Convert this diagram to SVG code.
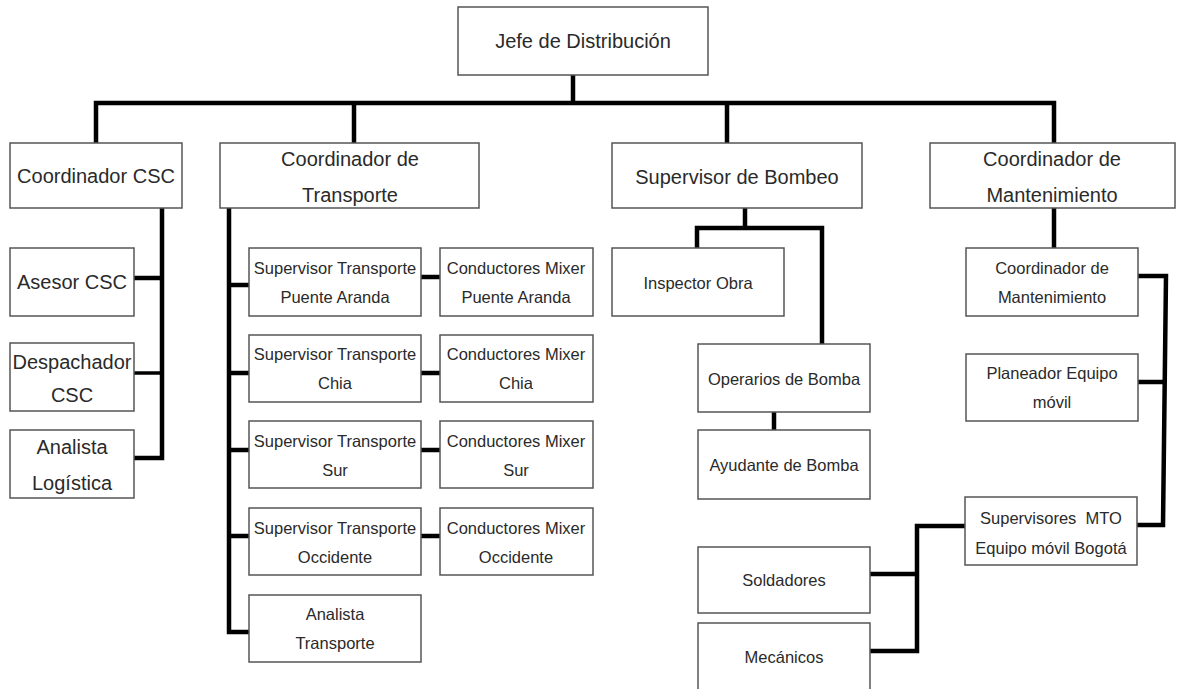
<svg xmlns="http://www.w3.org/2000/svg" width="1178" height="689" viewBox="0 0 1178 689">
  <style>
    .box { fill: #ffffff; stroke: #555555; stroke-width: 1.5; }
    .lbl { font-family: "Liberation Sans", Arial, sans-serif; fill: #2a2a2a; text-anchor: middle; }
    .l1 { font-size: 20px; }
    .l2 { font-size: 16.5px; }
    .wire { fill: none; stroke: #000000; stroke-width: 4.5; stroke-linejoin: miter; stroke-linecap: butt; }
  </style>
  <rect width="1178" height="689" fill="#ffffff"/>

  <!-- connectors -->
  <g id="connectors" class="wire">
    <!-- top level -->
    <polyline points="573,75 573,103"/>
    <polyline points="96,143 96,103 1054,103 1054,143"/>
    <polyline points="354,103 354,143"/>
    <polyline points="727,103 727,143"/>
    <!-- CSC branch -->
    <polyline points="162,208 162,458 134,458"/>
    <polyline points="134,278 162,278"/>
    <polyline points="134,373 162,373" stroke-width="3.5"/>
    <!-- transport branch -->
    <polyline points="229,208 229,632 249,632"/>
    <polyline points="229,285 249,285"/>
    <polyline points="229,373 249,373"/>
    <polyline points="229,450 249,450"/>
    <polyline points="229,536 249,536"/>
    <polyline points="421,277 440,277"/>
    <polyline points="421,373 440,373"/>
    <polyline points="421,450 440,450"/>
    <polyline points="421,536 440,536"/>
    <!-- pumping branch -->
    <polyline points="745,208 745,228"/>
    <polyline points="697,248 697,228 822,228 822,344"/>
    <polyline points="774,412 774,430"/>
    <!-- maintenance branch -->
    <polyline points="1054,208 1054,248"/>
    <polyline points="1138,276 1166,276 1163,525 1137,525"/>
    <polyline points="1138,382 1164,382"/>
    <polyline points="965,526 917,526 917,651 870,651"/>
    <polyline points="870,574 917,574"/>
  </g>

  <!-- top -->
  <g id="jefe">
    <rect class="box" x="458" y="7" width="250" height="68"/>
    <text class="lbl l1" x="583" y="48">Jefe de Distribución</text>
  </g>

  <!-- second level -->
  <g id="coord-csc">
    <rect class="box" x="10" y="143" width="172" height="65"/>
    <text class="lbl l1" x="96" y="183">Coordinador CSC</text>
  </g>
  <g id="coord-transporte">
    <rect class="box" x="220" y="143" width="259" height="65"/>
    <text class="lbl l1" x="350" y="166">Coordinador de</text>
    <text class="lbl l1" x="350" y="202">Transporte</text>
  </g>
  <g id="sup-bombeo">
    <rect class="box" x="612" y="143" width="250" height="65"/>
    <text class="lbl l1" x="737" y="184">Supervisor de Bombeo</text>
  </g>
  <g id="coord-mantenimiento">
    <rect class="box" x="930" y="143" width="245" height="65"/>
    <text class="lbl l1" x="1052" y="166">Coordinador de</text>
    <text class="lbl l1" x="1052" y="202">Mantenimiento</text>
  </g>

  <!-- CSC column -->
  <g id="asesor-csc">
    <rect class="box" x="10" y="248" width="124" height="68"/>
    <text class="lbl l1" x="72" y="289">Asesor CSC</text>
  </g>
  <g id="despachador-csc">
    <rect class="box" x="10" y="343" width="124" height="68"/>
    <text class="lbl l1" x="72" y="369">Despachador</text>
    <text class="lbl l1" x="72" y="402">CSC</text>
  </g>
  <g id="analista-logistica">
    <rect class="box" x="10" y="430" width="124" height="68"/>
    <text class="lbl l1" x="72" y="454">Analista</text>
    <text class="lbl l1" x="72" y="490">Logística</text>
  </g>

  <!-- transport column -->
  <g id="sup-puente-aranda">
    <rect class="box" x="249" y="248" width="172" height="68"/>
    <text class="lbl l2" x="335" y="274">Supervisor Transporte</text>
    <text class="lbl l2" x="335" y="303">Puente Aranda</text>
  </g>
  <g id="cond-puente-aranda">
    <rect class="box" x="440" y="248" width="153" height="68"/>
    <text class="lbl l2" x="516" y="274">Conductores Mixer</text>
    <text class="lbl l2" x="516" y="303">Puente Aranda</text>
  </g>
  <g id="sup-chia">
    <rect class="box" x="249" y="335" width="172" height="67"/>
    <text class="lbl l2" x="335" y="360">Supervisor Transporte</text>
    <text class="lbl l2" x="335" y="389">Chia</text>
  </g>
  <g id="cond-chia">
    <rect class="box" x="440" y="335" width="153" height="67"/>
    <text class="lbl l2" x="516" y="360">Conductores Mixer</text>
    <text class="lbl l2" x="516" y="389">Chia</text>
  </g>
  <g id="sup-sur">
    <rect class="box" x="249" y="421" width="172" height="67"/>
    <text class="lbl l2" x="335" y="447">Supervisor Transporte</text>
    <text class="lbl l2" x="335" y="476">Sur</text>
  </g>
  <g id="cond-sur">
    <rect class="box" x="440" y="421" width="153" height="67"/>
    <text class="lbl l2" x="516" y="447">Conductores Mixer</text>
    <text class="lbl l2" x="516" y="476">Sur</text>
  </g>
  <g id="sup-occidente">
    <rect class="box" x="249" y="508" width="172" height="67"/>
    <text class="lbl l2" x="335" y="534">Supervisor Transporte</text>
    <text class="lbl l2" x="335" y="563">Occidente</text>
  </g>
  <g id="cond-occidente">
    <rect class="box" x="440" y="508" width="153" height="67"/>
    <text class="lbl l2" x="516" y="534">Conductores Mixer</text>
    <text class="lbl l2" x="516" y="563">Occidente</text>
  </g>
  <g id="analista-transporte">
    <rect class="box" x="249" y="595" width="172" height="67"/>
    <text class="lbl l2" x="335" y="620">Analista</text>
    <text class="lbl l2" x="335" y="649">Transporte</text>
  </g>

  <!-- pumping column -->
  <g id="inspector-obra">
    <rect class="box" x="612" y="248" width="172" height="68"/>
    <text class="lbl l2" x="698" y="289">Inspector Obra</text>
  </g>
  <g id="operarios-bomba">
    <rect class="box" x="698" y="344" width="172" height="68"/>
    <text class="lbl l2" x="784" y="385">Operarios de Bomba</text>
  </g>
  <g id="ayudante-bomba">
    <rect class="box" x="698" y="430" width="172" height="69"/>
    <text class="lbl l2" x="784" y="471">Ayudante de Bomba</text>
  </g>

  <!-- maintenance column -->
  <g id="coord-mantenimiento-2">
    <rect class="box" x="966" y="248" width="172" height="68"/>
    <text class="lbl l2" x="1052" y="274">Coordinador de</text>
    <text class="lbl l2" x="1052" y="303">Mantenimiento</text>
  </g>
  <g id="planeador-equipo">
    <rect class="box" x="966" y="354" width="172" height="67"/>
    <text class="lbl l2" x="1052" y="379">Planeador Equipo</text>
    <text class="lbl l2" x="1052" y="408">móvil</text>
  </g>
  <g id="supervisores-mto">
    <rect class="box" x="965" y="497" width="172" height="68"/>
    <text class="lbl l2" x="1051" y="524" xml:space="preserve">Supervisores  MTO</text>
    <text class="lbl l2" x="1051" y="554">Equipo móvil Bogotá</text>
  </g>
  <g id="soldadores">
    <rect class="box" x="698" y="547" width="172" height="66"/>
    <text class="lbl l2" x="784" y="586">Soldadores</text>
  </g>
  <g id="mecanicos">
    <rect class="box" x="698" y="623" width="172" height="80"/>
    <text class="lbl l2" x="784" y="663">Mecánicos</text>
  </g>
</svg>
